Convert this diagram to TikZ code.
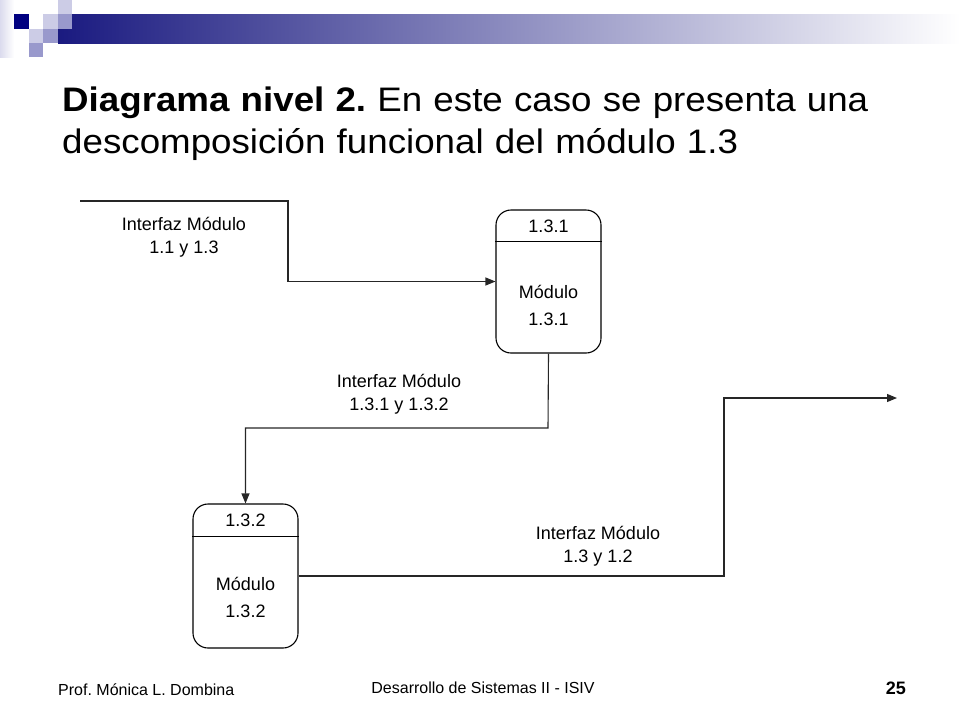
\documentclass[tikz,border=0pt]{standalone}
\usepackage{fontspec}
\setmainfont{Liberation Sans}
\newfontfamily\titlefont[FakeStretch=1.08]{Liberation Sans}
\usetikzlibrary{arrows.meta,positioning}
\definecolor{navysq}{RGB}{0,0,128}
\definecolor{midsq}{RGB}{153,153,204}
\definecolor{lightsq}{RGB}{204,204,230}
\definecolor{bardark}{RGB}{26,26,128}
\definecolor{barmid}{RGB}{175,175,196}
\tikzset{
  modbox/.style={draw, line width=1.1pt, rounded corners=15pt, minimum width=105pt, minimum height=143pt, inner sep=0pt},
  conn/.style={line width=1.1pt, draw=black!85},
  arr/.style={conn, -{Triangle[length=10pt,width=8pt]}},
  lbl/.style={align=center, font=\fontsize{18}{23}\selectfont, inner sep=0pt},
  boxtx/.style={align=center, font=\fontsize{18}{27}\selectfont, inner sep=0pt},
  ttl/.style={anchor=base west, inner sep=0pt, font=\titlefont\fontsize{34}{40}\selectfont},
  foot/.style={font=\fontsize{16}{19}\selectfont, inner sep=0pt},
}
\begin{document}
\begin{tikzpicture}[x=1pt,y=-1pt]
\useasboundingbox (0,0) rectangle (960,720);
% decorative corner
\shade[left color=lightsq!70, right color=white] (0,0) rectangle (14,57);
\shade[left color=bardark, middle color=barmid, right color=white] (58,14) rectangle (960,43);
\fill[lightsq] (58,0) rectangle (72,14);
\fill[navysq] (14,14) rectangle (29,29);
\fill[lightsq] (43,14) rectangle (58,29);
\fill[midsq] (58,14) rectangle (72,29);
\fill[lightsq] (29,29) rectangle (43,43);
\fill[midsq] (43,29) rectangle (58,43);
\fill[midsq] (29,43) rectangle (43,57);
% title
\node[ttl] (t1) at (62,111) {\makebox[806pt][s]{\textbf{Diagrama nivel 2.}\ En este caso se presenta una}};
\node[ttl] (t2) at (62,153) {\makebox[676pt][s]{descomposición funcional del módulo 1.3}};
% boxes
\node[modbox] (b1) at (548.5,281.5) {};
\draw[line width=1.1pt] ([yshift=-32pt]b1.north west) -- ([yshift=-32pt]b1.north east);
\node[lbl] (b1id) at (548.5,226) {1.3.1};
\node[boxtx] (b1tx) at (548.5,305) {Módulo\\1.3.1};
\node[modbox, minimum height=144pt] (b2) at (245.5,576) {};
\draw[line width=1.1pt] ([yshift=-33pt]b2.north west) -- ([yshift=-33pt]b2.north east);
\node[lbl] (b2id) at (245.5,520) {1.3.2};
\node[boxtx] (b2tx) at (245.5,597) {Módulo\\1.3.2};
% connectors
\coordinate (in0) at (80,201);
\coordinate (k1) at (288,201);
\draw[arr] (in0) -- (k1) |- (b1.west);
\coordinate (k2) at (548,428);
\draw[arr] (b1.south) -- (k2) -| (b2.north);
\coordinate (k3) at (724,398);
\coordinate (out) at (897,398);
\draw[arr] (b2.east) -| (k3) -- (out);
% labels
\node[lbl] (l1) at (184,237.5) {Interfaz Módulo\\1.1 y 1.3};
\node[lbl] (l2) at (399,394.5) {Interfaz Módulo\\1.3.1 y 1.3.2};
\node[lbl] (l3) at (598,546.5) {Interfaz Módulo\\1.3 y 1.2};
% footer
\node[foot, anchor=west] (f1) at (58,690) {Prof.\ Mónica L.\ Dombina};
\node[foot, anchor=center] (f2) at (483,688) {Desarrollo de Sistemas II - ISIV};
\node[foot, anchor=east, font=\fontsize{18}{21}\selectfont\bfseries] (f3) at (906,688) {25};
\end{tikzpicture}
\end{document}
